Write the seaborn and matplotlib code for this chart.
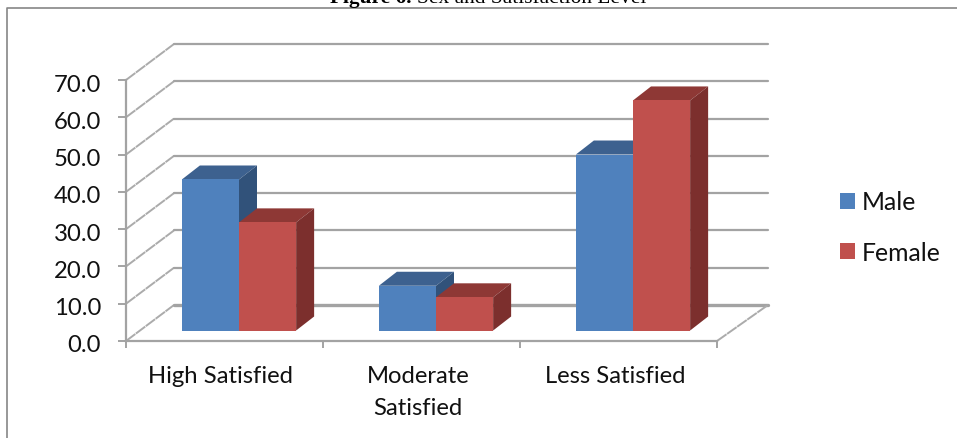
import matplotlib
matplotlib.use("Agg")
import matplotlib.pyplot as plt
from matplotlib.patches import Rectangle
from matplotlib.transforms import ScaledTranslation
import pandas as pd
import seaborn as sns

levels = ["High Satisfied", "Moderate\nSatisfied", "Less Satisfied"]
male = [40.5, 12.0, 47.2]
female = [29.0, 8.9, 61.7]
y_ticks = [0, 10, 20, 30, 40, 50, 60, 70]

MALE, FEMALE = "#4F81BD", "#C0504D"
MALE_TOP, MALE_SIDE = "#3D618F", "#31527A"
FEMALE_TOP, FEMALE_SIDE = "#8E3835", "#7C2F2D"
GRID = "#A3A3A3"
DIAGONAL = "#ABABAB"
FRAME = "#868686"
LABEL_SIZE = 17.2

W, H = 957, 439
sns.set_theme(style="white")
plt.rcParams["font.family"] = ["Lato", "DejaVu Sans"]

fig = plt.figure(figsize=(W / 100, H / 100), dpi=100, facecolor="white")


def rect(left, top, right, bottom):
    """Axes rectangle from pixel edges measured from the top-left corner."""
    return [left / W, (H - bottom) / H, (right - left) / W, (bottom - top) / H]


# Front plane of the chart: axis lines, ticks and labels
ax = fig.add_axes(rect(126, 81, 717, 342))
ax.set_xlim(-0.5, 2.5)
ax.set_ylim(0, 70)
ax.patch.set_alpha(0)
x_unit = 197.0
y_unit = 261.0 / 70

# Receding wall and floor lines
wall_dx = 48 / x_unit
wall_dy = 36 / y_unit
for v in y_ticks:
    ax.plot([-0.5, -0.5 + wall_dx], [v, v + wall_dy], color=DIAGONAL, lw=1.4,
            ls=(0, (6, 0.35)), clip_on=False, zorder=1)
    ax.plot([-0.5 + wall_dx, 2.5 + 51 / x_unit], [v + wall_dy, v + wall_dy],
            color=GRID, lw=2.4 if v == 0 else 1.6, clip_on=False, zorder=1)
ax.plot([2.5, 2.5 + 51 / x_unit], [0, wall_dy], color=DIAGONAL, lw=1.4,
        ls=(0, (6, 0.35)), clip_on=False, zorder=1)

for side in ("top", "right"):
    ax.spines[side].set_visible(False)
for side in ("left", "bottom"):
    ax.spines[side].set_color(GRID)
    ax.spines[side].set_linewidth(1.6)

ax.set_yticks(y_ticks, [f"{v:.1f}" for v in y_ticks])
ax.set_xticks([-0.5, 0.5, 1.5, 2.5], ["", "", "", ""])
ax.set_xticks([c - 3.5 / x_unit for c in range(3)], levels, minor=True,
              linespacing=1.62, va="top")
ax.tick_params(axis="y", left=True, length=6, width=1.4, color=GRID, pad=12,
               labelsize=LABEL_SIZE, labelcolor="#111111")
ax.tick_params(axis="x", which="major", bottom=True, length=5, width=1.4,
               color=GRID)
ax.tick_params(axis="x", which="minor", bottom=False, length=0, pad=17.5,
               labelsize=LABEL_SIZE, labelcolor="#111111")

# Nudge the value labels down so they sit level with their ticks
nudge = ScaledTranslation(0, -2 / 100, fig.dpi_scale_trans)
for label in ax.get_yticklabels():
    label.set_transform(label.get_transform() + nudge)

# Bar fronts sit a little way into the depth of the floor
bars_ax = fig.add_axes(rect(140.5, 70.5, 731.5, 331.5), sharex=None)
bars_ax.patch.set_alpha(0)
data = pd.DataFrame({
    "Level": levels * 2,
    "Sex": ["Male"] * 3 + ["Female"] * 3,
    "Percent": male + female,
})
sns.barplot(data=data, x="Level", y="Percent", hue="Sex",
            palette={"Male": MALE, "Female": FEMALE}, saturation=1,
            width=0.58, gap=0, dodge=True, ax=bars_ax, zorder=5,
            edgecolor="none", legend=False)
bars_ax.set_xlim(-0.5, 2.5)
bars_ax.set_ylim(0, 70)
bars_ax.axis("off")

# Extrude the top and side of every bar behind its front face
depth_x = 18 / x_unit
depth_y = 14 / y_unit
bar_patches = [p for p in bars_ax.patches if p.get_height() > 0]
for idx, patch in enumerate(bar_patches):
    is_male = idx < 3
    x0, x1 = patch.get_x(), patch.get_x() + patch.get_width()
    top = patch.get_height()
    z = 2 if is_male else 3
    bars_ax.fill([x0, x1, x1 + depth_x, x0 + depth_x],
                 [top, top, top + depth_y, top + depth_y],
                 color=MALE_TOP if is_male else FEMALE_TOP, lw=0, zorder=z)
    bars_ax.fill([x1, x1 + depth_x, x1 + depth_x, x1],
                 [0, depth_y, top + depth_y, top],
                 color=MALE_SIDE if is_male else FEMALE_SIDE, lw=0, zorder=z)

# Legend to the right of the plot
handles = [Rectangle((0, 0), 1, 1, facecolor=MALE, lw=0),
           Rectangle((0, 0), 1, 1, facecolor=FEMALE, lw=0)]
fig.legend(handles, ["Male", "Female"], loc="center left",
           bbox_to_anchor=(840 / W, (H - 228) / H), frameon=False,
           fontsize=17.8, labelcolor="#111111", handlelength=0.61,
           handleheight=0.61, handletextpad=0.29, labelspacing=1.1, borderpad=0,
           borderaxespad=0)

# Outer chart frame, running off the right and bottom edges
fig.add_artist(plt.Line2D([7.5 / W, 7.5 / W, 1], [0, (H - 8.5) / H, (H - 8.5) / H],
                          color=FRAME, lw=1.2, transform=fig.transFigure))

# Caption above the frame: bold lead-in followed by regular text
renderer = fig.canvas.get_renderer()
lead = fig.text(330 / W, (H - 3) / H, "Figure 6.", family="Liberation Serif",
                weight="bold", fontsize=15.4, color="black", va="baseline")
lead_end = lead.get_window_extent(renderer).x1
fig.text((lead_end + 5) / W, (H - 3) / H, "Sex and Satisfaction Level",
         family="Liberation Serif", fontsize=15.4, color="black", va="baseline")

fig.savefig("out.png", dpi=100)
